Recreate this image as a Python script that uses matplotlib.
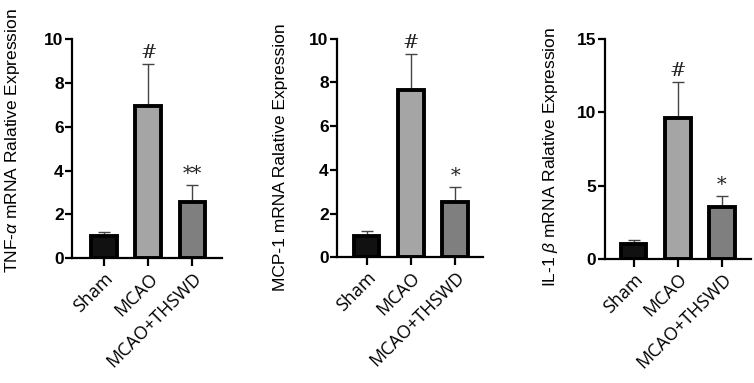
import matplotlib
matplotlib.use("Agg")
import matplotlib.pyplot as plt
from matplotlib import font_manager

groups = ["Sham", "MCAO", "MCAO+THSWD"]
tnf_mean = [1.0, 6.95, 2.58]
tnf_err = [0.2, 1.93, 0.76]
mcp_mean = [0.96, 7.66, 2.53]
mcp_err = [0.26, 1.66, 0.70]
il_mean = [1.0, 9.6, 3.53]
il_err = [0.3, 2.47, 0.77]
sig_marks = ["", "#", "**"], ["", "#", "*"], ["", "#", "*"]
ylabels = [r"TNF-$\alpha$ mRNA Ralative Expression",
           "MCP-1 mRNA Ralative Expression",
           r"IL-1 $\beta$ mRNA Ralative Expression"]
yticks = [[0, 2, 4, 6, 8, 10], [0, 2, 4, 6, 8, 10], [0, 5, 10, 15]]
ylims = [10, 10, 15]
bar_colors = ["#111111", "#a5a5a5", "#7f7f7f"]

names = {f.name for f in font_manager.fontManager.ttflist}
label_font = "Liberation Sans Narrow" if "Liberation Sans Narrow" in names else "Liberation Sans"
label_size = 15 if label_font == "Liberation Sans Narrow" else 12.5

plt.rcParams['mathtext.fontset'] = 'custom'
plt.rcParams['mathtext.it'] = label_font + ':italic'
plt.rcParams['mathtext.rm'] = label_font
fig = plt.figure(figsize=(7.54, 3.83), dpi=100)
boxes = [(0.0955, 0.326, 0.199, 0.572),
         (0.447, 0.328, 0.194, 0.571),
         (0.802, 0.324, 0.194, 0.574)]
xlims = [(-0.727, 2.67), (-0.667, 2.63), (-0.655, 2.66)]
ylab_x = [13, 281, 551]
ylab_y = [141, 157, 157]
data = [(tnf_mean, tnf_err), (mcp_mean, mcp_err), (il_mean, il_err)]

for i, (box, (m, e)) in enumerate(zip(boxes, data)):
    ax = fig.add_axes(box)
    x = list(range(len(groups)))
    ax.bar(x, m, width=0.58, color=bar_colors, edgecolor="black", linewidth=2.8, zorder=3)
    ax.errorbar(x, m, yerr=[[0, 0, 0], e], fmt="none", ecolor="#444444",
                elinewidth=1.0, capsize=4, capthick=1.0, zorder=2)
    top = ylims[i]
    for xi, mi, ei, s in zip(x, m, e, sig_marks[i]):
        if s:
            ax.text(xi, mi + ei + top * 0.008, s, ha="center", va="bottom",
                    fontsize=14, family="DejaVu Serif", color="#222222")
    ax.set_xlim(*xlims[i])
    ax.set_ylim(0, ylims[i])
    ax.set_yticks(yticks[i])
    ax.set_xticks(x)
    ax.set_xticklabels(groups, rotation=45, ha="right", rotation_mode="anchor",
                       fontsize=13, family="Open Sans")
    for lab in ax.get_yticklabels():
        lab.set_fontweight("bold")
        lab.set_family("Liberation Sans")
        lab.set_fontsize(12.5)
    for sp in ["top", "right"]:
        ax.spines[sp].set_visible(False)
    for sp in ["left", "bottom"]:
        ax.spines[sp].set_linewidth(1.6)
    ax.tick_params(axis="y", length=5, width=1.6, pad=1)
    ax.tick_params(axis="x", length=6, width=1.6, pad=2)
    fig.text(ylab_x[i] / 754, 1 - ylab_y[i] / 383, ylabels[i], rotation=90,
             ha="center", va="center", fontsize=label_size, family=label_font)

fig.savefig("out.png", dpi=100)
